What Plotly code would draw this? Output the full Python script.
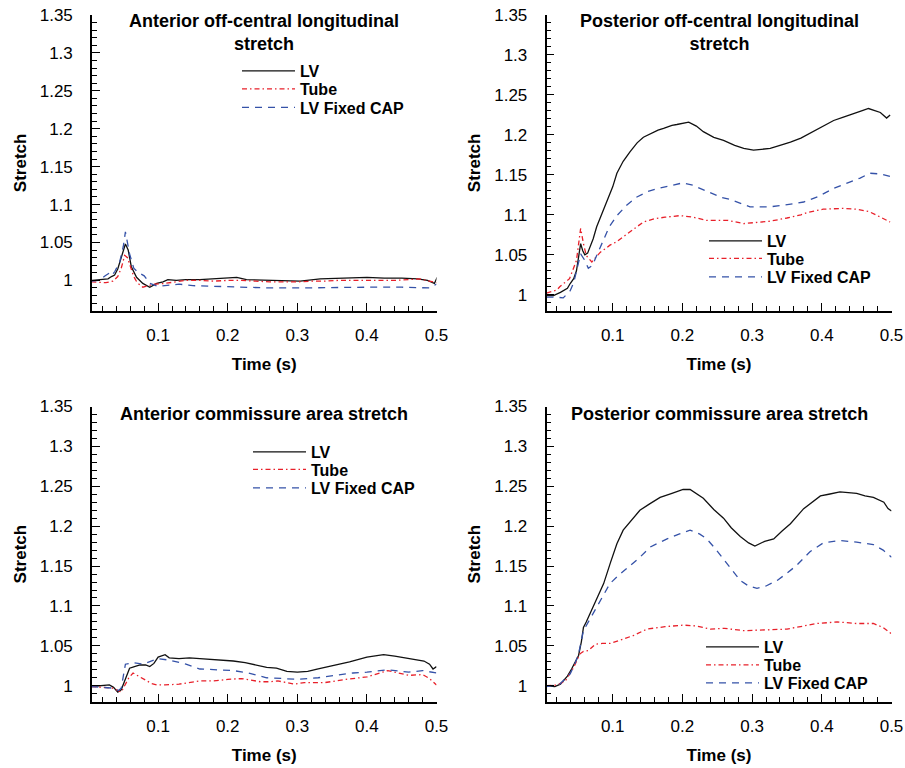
import plotly.graph_objects as go

FONT = "Liberation Sans, Arial, Helvetica, sans-serif"
BLACK = "#111111"
RED = "#e8202a"
BLUE = "#3552a8"

# ---------------- data ----------------
series_names = ["LV", "Tube", "LV Fixed CAP"]
panel_titles = ["Anterior off-central longitudinal<br>stretch",
                "Posterior off-central longitudinal<br>stretch",
                "Anterior commissure area stretch",
                "Posterior commissure area stretch"]
x_tick_vals = [0.1, 0.2, 0.3, 0.4, 0.5]

# Panel 1: anterior off-central longitudinal
p1_lv_t = [0.004, 0.023, 0.028, 0.033, 0.0375, 0.042, 0.047, 0.053, 0.057, 0.0615, 0.069, 0.078, 0.088, 0.098, 0.107, 0.114, 0.126, 0.14, 0.16, 0.18, 0.203, 0.213, 0.227, 0.26, 0.28, 0.304, 0.333, 0.376, 0.4, 0.425, 0.45, 0.473, 0.487, 0.497, 0.501]
p1_lv = [1.0, 1.001, 1.002, 1.005, 1.007, 1.015, 1.031, 1.048, 1.040, 1.018, 1.004, 0.996, 0.991, 0.996, 0.998, 1.001, 1.0, 1.001, 1.001, 1.002, 1.004, 1.004, 1.001, 1.0, 0.999, 0.999, 1.002, 1.003, 1.004, 1.003, 1.003, 1.002, 1.0, 0.996, 1.004]
p1_tube_t = [0.004, 0.015, 0.025, 0.035, 0.042, 0.047, 0.052, 0.056, 0.06, 0.065, 0.07, 0.078, 0.085, 0.095, 0.11, 0.125, 0.14, 0.16, 0.18, 0.2, 0.22, 0.24, 0.26, 0.28, 0.3, 0.32, 0.34, 0.36, 0.38, 0.4, 0.42, 0.44, 0.46, 0.475, 0.49, 0.5]
p1_tube = [0.998, 0.997, 0.997, 0.999, 1.005, 1.016, 1.033, 1.030, 1.018, 1.005, 0.997, 0.991, 0.993, 0.995, 0.996, 0.998, 1.0, 1.0, 0.999, 1.0, 1.0, 0.999, 0.998, 0.998, 0.998, 0.999, 0.999, 1.0, 1.0, 1.0, 1.0, 1.0, 1.001, 1.002, 0.999, 0.997]
p1_cap_t = [0.004, 0.015, 0.024, 0.029, 0.033, 0.038, 0.045, 0.05, 0.053, 0.056, 0.059, 0.065, 0.072, 0.08, 0.088, 0.1, 0.11, 0.13, 0.15, 0.18, 0.2, 0.23, 0.26, 0.3, 0.35, 0.4, 0.45, 0.48, 0.49, 0.5]
p1_cap = [0.999, 1.0, 1.006, 1.009, 1.006, 1.012, 1.025, 1.045, 1.064, 1.05, 1.035, 1.016, 1.010, 1.006, 0.996, 0.992, 0.993, 0.995, 0.993, 0.992, 0.992, 0.991, 0.990, 0.990, 0.991, 0.991, 0.991, 0.990, 0.990, 0.995]

# Panel 2: posterior off-central longitudinal
p2_lv_t = [0.005, 0.015, 0.025, 0.029, 0.035, 0.039, 0.044, 0.048, 0.051, 0.054, 0.057, 0.06, 0.064, 0.067, 0.072, 0.077, 0.084, 0.091, 0.1, 0.106, 0.115, 0.125, 0.135, 0.144, 0.155, 0.165, 0.173, 0.185, 0.192, 0.2, 0.209, 0.22, 0.23, 0.245, 0.259, 0.275, 0.288, 0.302, 0.315, 0.326, 0.34, 0.355, 0.37, 0.383, 0.4, 0.417, 0.43, 0.445, 0.457, 0.467, 0.475, 0.484, 0.493, 0.498]
p2_lv = [0.999, 0.999, 1.003, 1.005, 1.008, 1.014, 1.02, 1.03, 1.045, 1.064, 1.055, 1.05, 1.052, 1.058, 1.07, 1.085, 1.1, 1.114, 1.135, 1.152, 1.167, 1.179, 1.19, 1.197, 1.202, 1.206, 1.208, 1.212, 1.213, 1.214, 1.216, 1.211, 1.204, 1.197, 1.193, 1.187, 1.183, 1.181, 1.182, 1.183, 1.187, 1.191, 1.196, 1.202, 1.21, 1.218, 1.222, 1.227, 1.230, 1.233, 1.231, 1.228, 1.221, 1.225]
p2_tube_t = [0.005, 0.02, 0.024, 0.038, 0.048, 0.054, 0.058, 0.062, 0.07, 0.076, 0.082, 0.09, 0.096, 0.105, 0.115, 0.13, 0.144, 0.16, 0.175, 0.197, 0.215, 0.235, 0.255, 0.265, 0.288, 0.3, 0.326, 0.35, 0.37, 0.38, 0.402, 0.43, 0.45, 0.468, 0.484, 0.498]
p2_tube = [1.002, 1.006, 1.01, 1.02, 1.043, 1.083, 1.064, 1.049, 1.041, 1.047, 1.053, 1.058, 1.062, 1.066, 1.072, 1.082, 1.091, 1.095, 1.097, 1.099, 1.097, 1.093, 1.093, 1.093, 1.089, 1.09, 1.092, 1.096, 1.1, 1.103, 1.107, 1.108, 1.107, 1.104, 1.097, 1.091]
p2_cap_t = [0.005, 0.018, 0.029, 0.034, 0.039, 0.044, 0.048, 0.054, 0.06, 0.065, 0.07, 0.072, 0.08, 0.087, 0.095, 0.106, 0.12, 0.134, 0.15, 0.165, 0.18, 0.201, 0.215, 0.24, 0.255, 0.269, 0.283, 0.297, 0.31, 0.326, 0.345, 0.374, 0.395, 0.417, 0.44, 0.455, 0.469, 0.485, 0.498]
p2_cap = [0.997, 0.997, 0.996, 1.0, 1.005, 1.015, 1.03, 1.051, 1.043, 1.033, 1.036, 1.039, 1.055, 1.07, 1.085, 1.099, 1.112, 1.122, 1.129, 1.133, 1.136, 1.14, 1.137, 1.127, 1.122, 1.119, 1.114, 1.11, 1.11, 1.11, 1.112, 1.116, 1.123, 1.133, 1.141, 1.146, 1.152, 1.151, 1.148]

# Panel 3: anterior commissure area
p3_lv_t = [0.004, 0.02, 0.03, 0.036, 0.042, 0.047, 0.052, 0.056, 0.059, 0.066, 0.074, 0.082, 0.088, 0.094, 0.1, 0.11, 0.116, 0.13, 0.145, 0.16, 0.18, 0.208, 0.225, 0.24, 0.256, 0.27, 0.285, 0.3, 0.315, 0.33, 0.352, 0.375, 0.4, 0.424, 0.44, 0.46, 0.482, 0.49, 0.495, 0.5]
p3_lv = [0.999, 1.0, 1.001, 0.998, 0.992, 0.995, 1.006, 1.015, 1.022, 1.024, 1.026, 1.026, 1.024, 1.028, 1.036, 1.039, 1.035, 1.034, 1.035, 1.034, 1.033, 1.031, 1.029, 1.026, 1.023, 1.022, 1.018, 1.017, 1.018, 1.021, 1.025, 1.03, 1.036, 1.039, 1.037, 1.034, 1.031, 1.027, 1.021, 1.024]
p3_tube_t = [0.004, 0.025, 0.035, 0.047, 0.052, 0.058, 0.064, 0.072, 0.08, 0.09, 0.098, 0.11, 0.13, 0.16, 0.18, 0.2, 0.22, 0.235, 0.247, 0.26, 0.272, 0.285, 0.295, 0.31, 0.34, 0.37, 0.4, 0.43, 0.445, 0.46, 0.48, 0.49, 0.5]
p3_tube = [0.999, 0.998, 0.997, 0.992, 1.0, 1.01, 1.016, 1.012, 1.008, 1.003, 1.001, 1.001, 1.002, 1.006, 1.006, 1.008, 1.009, 1.007, 1.005, 1.005, 1.006, 1.004, 1.002, 1.004, 1.004, 1.008, 1.011, 1.019, 1.016, 1.013, 1.014, 1.009, 1.001]
p3_cap_t = [0.004, 0.035, 0.043, 0.047, 0.053, 0.064, 0.078, 0.09, 0.1, 0.117, 0.14, 0.16, 0.18, 0.208, 0.23, 0.256, 0.28, 0.3, 0.33, 0.352, 0.38, 0.4, 0.43, 0.46, 0.48, 0.5]
p3_cap = [0.999, 0.997, 0.994, 0.997, 1.027, 1.029, 1.027, 1.031, 1.034, 1.032, 1.027, 1.021, 1.02, 1.019, 1.016, 1.01, 1.009, 1.008, 1.01, 1.013, 1.016, 1.017, 1.02, 1.017, 1.019, 1.016]

# Panel 4: posterior commissure area
p4_lv_t = [0.005, 0.017, 0.025, 0.029, 0.035, 0.041, 0.046, 0.051, 0.055, 0.058, 0.062, 0.067, 0.075, 0.087, 0.097, 0.106, 0.115, 0.127, 0.139, 0.153, 0.168, 0.185, 0.201, 0.211, 0.22, 0.23, 0.245, 0.259, 0.27, 0.283, 0.295, 0.304, 0.318, 0.331, 0.343, 0.355, 0.374, 0.398, 0.41, 0.426, 0.45, 0.462, 0.474, 0.489, 0.495, 0.5]
p4_lv = [1.0, 0.999, 1.002, 1.006, 1.012, 1.021, 1.03, 1.038, 1.055, 1.073, 1.08, 1.09, 1.106, 1.128, 1.155, 1.178, 1.195, 1.208, 1.22, 1.228, 1.236, 1.241, 1.246, 1.246, 1.241, 1.235, 1.221, 1.21, 1.198, 1.187, 1.179, 1.175, 1.181, 1.184, 1.194, 1.203, 1.222, 1.238, 1.24, 1.243, 1.241, 1.238, 1.236, 1.23, 1.222, 1.219]
p4_tube_t = [0.005, 0.02, 0.032, 0.044, 0.053, 0.058, 0.065, 0.07, 0.075, 0.085, 0.096, 0.11, 0.13, 0.149, 0.175, 0.201, 0.22, 0.24, 0.26, 0.288, 0.31, 0.35, 0.393, 0.422, 0.45, 0.474, 0.488, 0.5]
p4_tube = [1.0, 1.001, 1.006, 1.023, 1.04, 1.043, 1.044, 1.048, 1.052, 1.053, 1.053, 1.057, 1.063, 1.071, 1.074, 1.076, 1.075, 1.071, 1.072, 1.069, 1.07, 1.071, 1.078, 1.08, 1.078, 1.078, 1.073, 1.065]
p4_cap_t = [0.005, 0.024, 0.039, 0.046, 0.051, 0.058, 0.067, 0.077, 0.087, 0.096, 0.108, 0.12, 0.13, 0.139, 0.154, 0.165, 0.178, 0.195, 0.211, 0.225, 0.235, 0.247, 0.259, 0.271, 0.283, 0.295, 0.307, 0.32, 0.336, 0.35, 0.364, 0.383, 0.402, 0.426, 0.45, 0.474, 0.488, 0.5]
p4_cap = [0.999, 1.002, 1.015, 1.028, 1.04, 1.069, 1.083, 1.098, 1.113, 1.128, 1.138, 1.147, 1.155, 1.161, 1.174, 1.179, 1.184, 1.19, 1.195, 1.19, 1.184, 1.172, 1.159, 1.145, 1.132, 1.125, 1.122, 1.125, 1.132, 1.141, 1.151, 1.168, 1.179, 1.182, 1.18, 1.177, 1.17, 1.161]

panel_data = [
    [(p1_lv_t, p1_lv), (p1_tube_t, p1_tube), (p1_cap_t, p1_cap)],
    [(p2_lv_t, p2_lv), (p2_tube_t, p2_tube), (p2_cap_t, p2_cap)],
    [(p3_lv_t, p3_lv), (p3_tube_t, p3_tube), (p3_cap_t, p3_cap)],
    [(p4_lv_t, p4_lv), (p4_tube_t, p4_tube), (p4_cap_t, p4_cap)],
]
y_ranges = [[0.96, 1.35], [0.98, 1.35], [0.98, 1.35], [0.98, 1.35]]

# ---------------- layout geometry ----------------
W, H = 905, 768
x_doms = [[92 / W, 436.5 / W], [546.5 / W, 891.5 / W]]
y_doms = [[1 - 310.7 / H, 1 - 15 / H], [1 - 701.7 / H, 1 - 406.5 / H]]
# legend rows: (line start x px, [row centre y px])
legend_pos = [
    (242, [71, 89, 107.5]),
    (709, [241, 258.5, 277]),
    (253, [452, 469.5, 488]),
    (706, [647, 665, 683]),
]
title_pos = [(264, 32.5), (719, 32.5), (264, 413.5), (719, 413.5)]

styles = [dict(color=BLACK, dash="solid"),
          dict(color=RED, dash="5px,3px,1.5px,3px"),
          dict(color=BLUE, dash="7px,6px")]

fig = go.Figure()
layout = dict(width=W, height=H, margin=dict(l=0, r=0, t=0, b=0),
              paper_bgcolor="white", plot_bgcolor="white",
              font=dict(family=FONT, color="black"), showlegend=True,
              annotations=[])

for p in range(4):
    r, c = divmod(p, 2)
    ax = "" if p == 0 else str(p + 1)
    for s in range(3):
        t, v = panel_data[p][s]
        lid = p * 3 + s
        lname = "legend" if lid == 0 else f"legend{lid + 1}"
        fig.add_trace(go.Scatter(
            x=t, y=v, mode="lines", name=series_names[s],
            xaxis="x" + ax, yaxis="y" + ax,
            line=dict(color=styles[s]["color"], dash=styles[s]["dash"], width=1.3),
            legend=lname, showlegend=True))
        lx, rows = legend_pos[p]
        layout[lname] = dict(
            x=(lx - 5) / W, y=1 - rows[s] / H, xanchor="left", yanchor="middle",
            bgcolor="rgba(0,0,0,0)", borderwidth=0, itemwidth=53,
            font=dict(family=FONT, size=16, color="black", weight="bold"))
    layout["xaxis" + ax] = dict(
        domain=x_doms[c], anchor="y" + ax, range=[0.005, 0.5],
        tickmode="array", tickvals=x_tick_vals, ticktext=[str(v) for v in x_tick_vals],
        ticks="inside", ticklen=8, tickwidth=1.3, tickcolor="black",
        minor=dict(dtick=0.02, tick0=0, ticks="inside", ticklen=5, tickwidth=1.2, tickcolor="black"),
        showline=True, linewidth=1.6, linecolor="black", mirror=False,
        showgrid=False, zeroline=False, automargin=False,
        ticklabelstandoff=8,
        tickfont=dict(family=FONT, size=17, color="black"),
        title=dict(text="Time (s)", standoff=14,
                   font=dict(family=FONT, size=17, color="black", weight="bold")))
    layout["yaxis" + ax] = dict(
        domain=y_doms[r], anchor="x" + ax, range=y_ranges[p],
        tick0=1, dtick=0.05,
        ticks="inside", ticklen=8, tickwidth=1.3, tickcolor="black",
        minor=dict(dtick=0.01, tick0=1, ticks="inside", ticklen=5, tickwidth=1.2, tickcolor="black"),
        showline=True, linewidth=1.6, linecolor="black", mirror=False,
        showgrid=False, zeroline=False, automargin=False,
        ticklabelstandoff=14,
        tickfont=dict(family=FONT, size=17, color="black"),
        title=dict(text="Stretch", standoff=9,
                   font=dict(family=FONT, size=17, color="black", weight="bold")))
    tx, ty = title_pos[p]
    layout["annotations"].append(dict(
        text=panel_titles[p], x=tx / W, y=1 - ty / H, xref="paper", yref="paper",
        xanchor="center", yanchor="middle", showarrow=False, align="center",
        font=dict(family=FONT, size=18, color="black", weight="bold")))

fig.update_layout(**layout)
fig.write_html("out.html")
